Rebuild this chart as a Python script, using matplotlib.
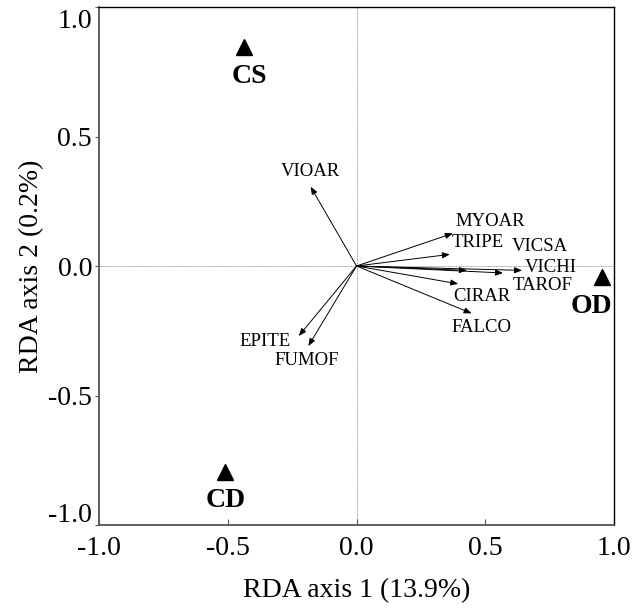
import matplotlib
matplotlib.use("Agg")
import matplotlib.pyplot as plt
import matplotlib.transforms as mtransforms

plt.rcParams['font.family'] = ['Liberation Serif', 'DejaVu Serif']

# species arrows (RDA scores)
species = ['VIOAR', 'EPITE', 'FUMOF', 'MYOAR', 'TRIPE', 'VICSA', 'TAROF', 'VICHI', 'CIRAR', 'FALCO']
sp_x = [-0.178, -0.224, -0.187, 0.374, 0.363, 0.429, 0.569, 0.643, 0.395, 0.447]
sp_y = [0.306, -0.270, -0.309, 0.126, 0.045, -0.017, -0.027, -0.017, -0.069, -0.183]

# treatment centroids
sites = ['CS', 'CD', 'OD']
site_x = [-0.435, -0.509, 0.955]
site_y = [0.847, -0.795, -0.041]

ticks = [-1.0, -0.5, 0.0, 0.5, 1.0]
xlabel = 'RDA axis 1 (13.9%)'
ylabel = 'RDA axis 2 (0.2%)'

# label placement, offsets in pixels from the arrow tip / marker
sp_off = {'VIOAR': (0, 15), 'EPITE': (-34, -6), 'FUMOF': (-2, -14), 'MYOAR': (37, 12),
          'TRIPE': (28, 12), 'VICSA': (73, 23.5), 'VICHI': (29, 2.5), 'TAROF': (40, -13),
          'CIRAR': (24, -13), 'FALCO': (10, -14)}
site_off = {'CS': (5, -29.5), 'CD': (0, -28.5), 'OD': (-11, -30)}

fig = plt.figure(figsize=(6.34, 6.10), dpi=100)
ax = fig.add_axes([99 / 634, 1 - 525 / 610, 515 / 634, 518 / 610])
ax.set_xlim(-1, 1)
ax.set_ylim(-1, 1)

ax.axhline(0, color='#777777', lw=0.6, ls=(0, (1, 1)), zorder=1)
ax.axvline(0, color='#777777', lw=0.6, ls=(0, (1, 1)), zorder=1)

for name, x, y in zip(species, sp_x, sp_y):
    ax.annotate('', xy=(x, y), xytext=(0, 0),
                arrowprops=dict(arrowstyle='-|>,head_length=0.5,head_width=0.2', lw=0.7,
                                color='black', mutation_scale=9, shrinkA=0, shrinkB=0))
    ax.annotate(name, xy=(x, y), xytext=sp_off[name], textcoords='offset pixels',
                ha='center', va='center', fontsize=13.5)

ax.plot(site_x, site_y, ls='none', marker='^', ms=12, color='black')
for name, x, y in zip(sites, site_x, site_y):
    ax.annotate(name, xy=(x, y), xytext=site_off[name], textcoords='offset pixels',
                ha='center', va='center', fontsize=20, fontweight='bold')

ax.set_xticks(ticks)
ax.set_yticks(ticks)
ax.set_xticklabels(['%.1f' % t for t in ticks], fontsize=20)
ax.set_yticklabels(['%.1f' % t for t in ticks], fontsize=20)
ax.tick_params(axis='x', direction='in', length=4, width=0.8, pad=8, color='#555555')
ax.tick_params(axis='y', direction='out', length=3, width=0.8, pad=2, color='#555555')

# end labels on the y axis sit inside the frame
ylabs = ax.get_yticklabels()
ylabs[0].set_transform(ylabs[0].get_transform() + mtransforms.ScaledTranslation(0, 13 / 100, fig.dpi_scale_trans))
ylabs[-1].set_transform(ylabs[-1].get_transform() + mtransforms.ScaledTranslation(0, -11 / 100, fig.dpi_scale_trans))

ax.set_xlabel(xlabel, fontsize=20, labelpad=12)
ax.set_ylabel(ylabel, fontsize=20, labelpad=3)

for s in ['left', 'bottom']:
    ax.spines[s].set_color('#555555')
    ax.spines[s].set_linewidth(1.3)
for s in ['top', 'right']:
    ax.spines[s].set_color('black')
    ax.spines[s].set_linewidth(1.0)

fig.savefig('out.png', dpi=100)
